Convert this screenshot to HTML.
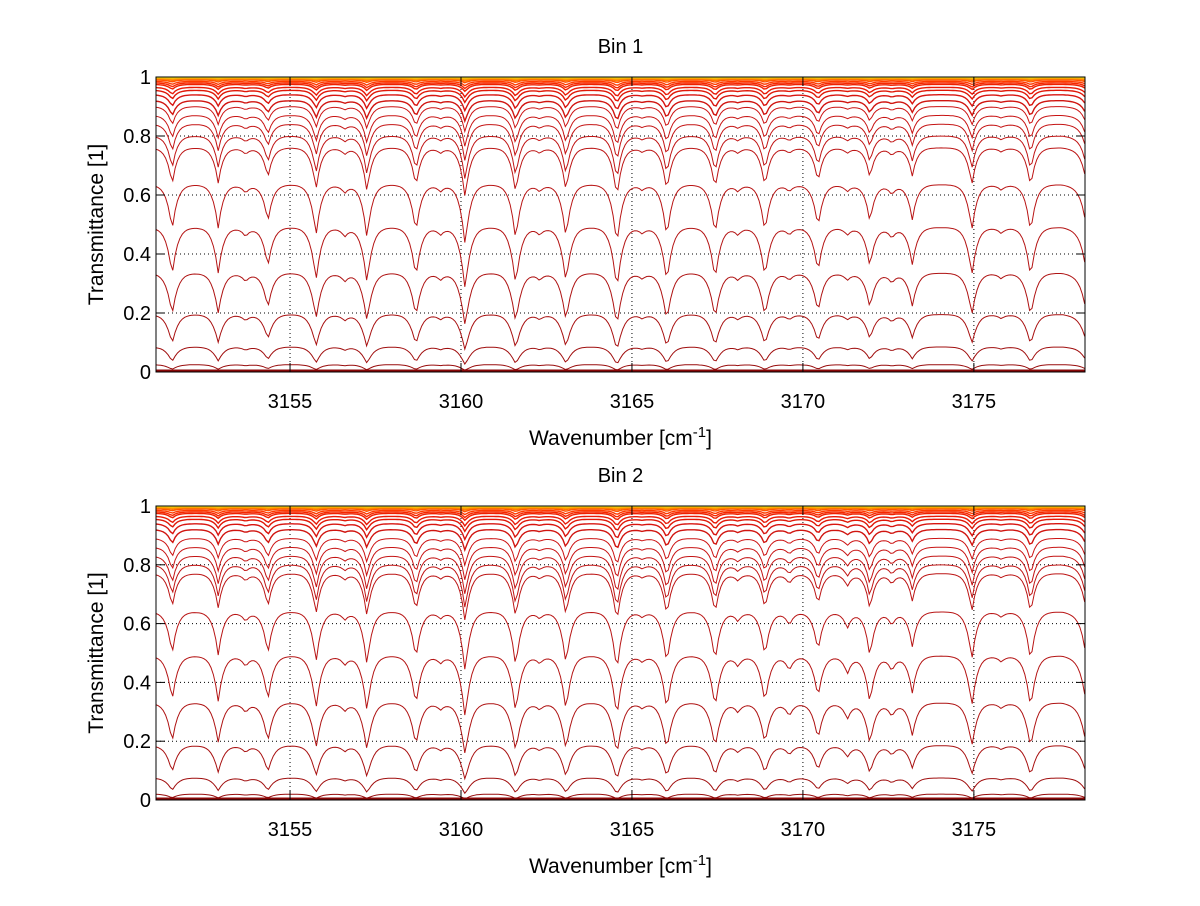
<!DOCTYPE html>
<html><head><meta charset="utf-8"><style>
body{margin:0;background:#fff}
svg text{font-family:"Liberation Sans",sans-serif;fill:#000}
</style></head><body>
<svg id="fig" width="1200" height="901" viewBox="0 0 1200 901" xmlns="http://www.w3.org/2000/svg"></svg>
<script>
// ---- data ----
const xTicks=[3155,3160,3165,3170,3175];
const yTicks=[0,0.2,0.4,0.6,0.8,1];
const titles=["Bin 1","Bin 2"];
// absorption line centres (cm-1) and relative strengths
const linePos=[3151.55,3152.9,3154.35,3155.76,3157.25,3158.68,3160.12,3161.6,3163.07,3164.56,3166.02,3167.43,3168.89,3170.44,3171.96,3173.2,3174.94,3176.66,3178.3,3153.7,3156.6,3159.4,3162.3,3165.3,3168.1,3169.6,3171.3,3172.6,3175.8];
const lineStr1=[0.75,0.7,0.6,0.85,0.9,0.8,1.05,0.95,0.9,1.05,0.9,0.85,0.8,0.7,0.6,0.55,0.75,0.8,0.7,0.12,0.12,0.1,0.1,0.08,0.1,0.1,0.1,0.14,0.08];
const lineStr2=[0.7,0.7,0.7,0.85,0.9,0.8,1.05,0.95,0.9,1.05,0.9,0.85,0.75,0.65,0.75,0.55,0.8,0.85,0.8,0.14,0.12,0.1,0.1,0.08,0.14,0.2,0.25,0.2,0.08];
// continuum transmittance levels of each layer curve
const levels1=[0.999,0.997,0.995,0.993,0.99,0.985,0.98,0.975,0.965,0.955,0.94,0.92,0.9,0.87,0.84,0.8,0.76,0.635,0.49,0.335,0.195,0.085,0.025,0.006,0.001];
const levels2=[0.999,0.997,0.995,0.993,0.99,0.985,0.98,0.975,0.965,0.955,0.94,0.92,0.89,0.86,0.83,0.8,0.77,0.64,0.49,0.33,0.185,0.075,0.02,0.004,0.001];
const colors=["#f0e020","#f8b000","#ff9000","#ff7000","#ff5000","#ff3a00","#f52800","#ee2000","#e81a08","#e01808","#d81510","#d01510","#cc1414","#c81414","#c41414","#c01414","#bc1414","#b81414","#b41414","#ae1212","#a81010","#a00e0e","#980c0c","#900a0a","#880808"];
// ---- layout ----
const X0=3151.08,X1=3178.25,L=156,R=1085;
const panels=[{top:77,bot:372,lp:linePos,ls:lineStr1,lv:levels1},{top:506,bot:800,lp:linePos,ls:lineStr2,lv:levels2}];
const NS="http://www.w3.org/2000/svg";
const svg=document.getElementById('fig');
function mk(t,a,p){const e=document.createElementNS(NS,t);for(const k in a)e.setAttribute(k,a[k]);(p||svg).appendChild(e);return e;}
const sx=v=>L+(v-X0)/(X1-X0)*(R-L);
panels.forEach((P,pi)=>{
  const sy=v=>P.bot-v*(P.bot-P.top);
  const g=mk('g',{});
  
  
  xTicks.forEach(t=>{const l=mk('line',{x1:sx(t),x2:sx(t),y1:P.top,y2:P.bot,stroke:'#000','stroke-width':1,'stroke-dasharray':'1,3'},g);
    });
  yTicks.forEach(t=>{const l=mk('line',{x1:L,x2:R,y1:sy(t),y2:sy(t),stroke:'#000','stroke-width':1,'stroke-dasharray':'1,3'},g);
    });
  const tau=[];const xs=[];
  for(let w=X0;w<=X1+1e-9;w+=0.07){let s=0;for(let i=0;i<P.lp.length;i++){s+=P.ls[i]*Math.exp(-Math.abs(w-P.lp[i])/0.14);}
    tau.push(s+0.08*Math.max(0,w-3177.6));xs.push(w);}
  for(let k=P.lv.length-1;k>=0;k--){
    const c=Math.log(P.lv[k]);let pts="";
    for(let j=0;j<xs.length;j++){const T=Math.exp(c*(1+tau[j]/(1+0.45*Math.abs(c))));pts+=sx(xs[j]).toFixed(1)+","+sy(T).toFixed(1)+" ";}
    const pl=mk('polyline',{points:pts,fill:'none',stroke:colors[k],'stroke-width':k<12?1.4:1},g);
    
    
  }
  mk('line',{x1:L,x2:R,y1:P.bot-1,y2:P.bot-1,stroke:'#8a0808','stroke-width':3},g);
  const b=mk('rect',{x:L,y:P.top,width:R-L,height:P.bot-P.top,fill:'none',stroke:'#000','stroke-width':1},g);
  
  xTicks.forEach(t=>{mk('line',{x1:sx(t),x2:sx(t),y1:P.bot,y2:P.bot-9,stroke:'#000'},g);mk('line',{x1:sx(t),x2:sx(t),y1:P.top,y2:P.top+9,stroke:'#000'},g);
    const tx=mk('text',{x:sx(t),y:P.bot+36,'text-anchor':'middle','font-size':20},g);tx.textContent=t;
    });
  yTicks.forEach(t=>{mk('line',{x1:L,x2:L+9,y1:sy(t),y2:sy(t),stroke:'#000'},g);mk('line',{x1:R,x2:R-9,y1:sy(t),y2:sy(t),stroke:'#000'},g);
    const tx=mk('text',{x:L-5,y:sy(t)+7,'text-anchor':'end','font-size':20},g);tx.textContent=String(t);
    });
  const ti=mk('text',{x:(L+R)/2,y:P.top-24,'text-anchor':'middle','font-size':20},g);ti.textContent=titles[pi];
  
  const yl=mk('text',{x:0,y:0,'text-anchor':'middle','font-size':21,transform:`translate(103,${(P.top+P.bot)/2}) rotate(-90)`},g);yl.textContent="Transmittance [1]";
  
  const xl=mk('text',{x:(L+R)/2,y:P.bot+73,'text-anchor':'middle','font-size':21},g);
  xl.innerHTML='Wavenumber [cm<tspan dy="-8" font-size="15">-1</tspan><tspan dy="8">]</tspan>';
  
});
</script>
</body></html>
